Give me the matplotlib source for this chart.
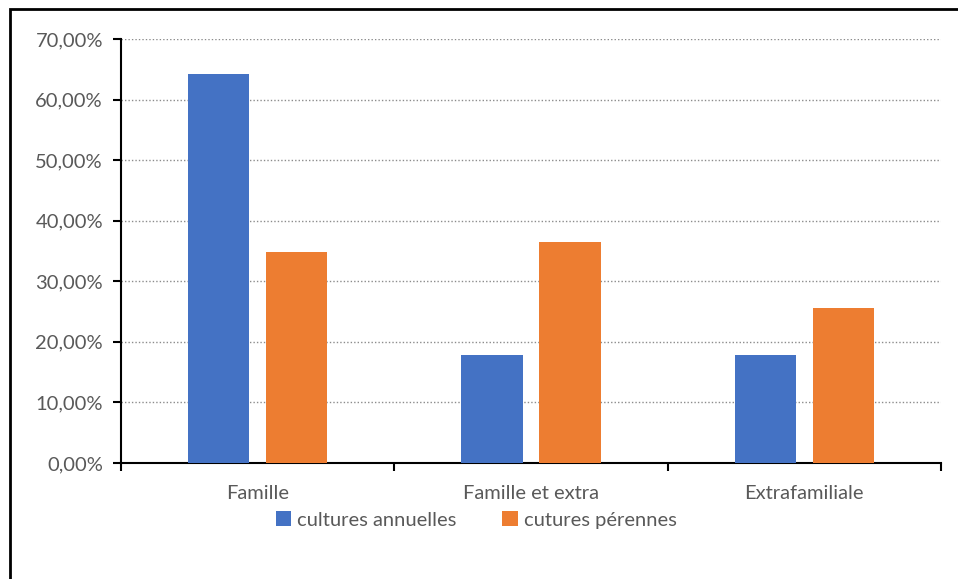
import numpy as np
import matplotlib
matplotlib.use("Agg")
import matplotlib.pyplot as plt
from matplotlib.patches import Rectangle
from matplotlib.ticker import FuncFormatter, MultipleLocator

# data
categories = ["Famille", "Famille et extra", "Extrafamiliale"]
annuelles = [64.2, 17.9, 17.9]
perennes = [34.8, 36.5, 25.6]
series_names = ["cultures annuelles", "cutures pérennes"]

blue = "#4472C4"
orange = "#ED7D31"
grey_text = "#595959"

plt.rcParams["font.family"] = ["Lato", "DejaVu Sans"]

fig = plt.figure(figsize=(9.58, 5.79), dpi=100)
ax = fig.add_axes([121 / 958, 1 - 463 / 579, 820 / 958, 424 / 579])

x = np.arange(len(categories))
w = 0.225
off = 0.1425
ax.bar(x - off, annuelles, w, color=blue, label=series_names[0], zorder=3)
ax.bar(x + off, perennes, w, color=orange, label=series_names[1], zorder=3)

ax.set_xlim(-0.5, len(categories) - 0.5)
ax.set_ylim(0, 70)
ax.yaxis.set_major_locator(MultipleLocator(10))
ax.yaxis.set_major_formatter(FuncFormatter(lambda v, p: ("%.2f%%" % v).replace(".", ",")))
ax.grid(axis="y", color="#8c8c8c", linestyle=(0, (1, 1.5)), linewidth=1, zorder=0)

# category labels in the middle, ticks on the boundaries
ax.set_xticks(np.arange(-0.5, len(categories)), labels=[""] * (len(categories) + 1))
ax.set_xticks(x, labels=categories, minor=True)
ax.tick_params(axis="x", which="minor", length=0, pad=16, labelsize=14.5, labelcolor=grey_text)
ax.tick_params(axis="x", which="major", length=6, width=1.5, color="black")
ax.tick_params(axis="y", length=6, width=1.5, color="black", labelsize=14.5, labelcolor=grey_text, pad=7)

for s in ["top", "right"]:
    ax.spines[s].set_visible(False)
ax.spines["left"].set_linewidth(1.5)
ax.spines["bottom"].set_linewidth(1.5)

ax.legend(loc="center", bbox_to_anchor=(476 / 958, 1 - 520 / 579), bbox_transform=fig.transFigure,
          ncol=2, frameon=False, fontsize=14.5, handlelength=0.75, handleheight=0.75,
          handletextpad=0.3, columnspacing=2.3, labelcolor=grey_text)

# outer border (right and bottom edges fall outside the image)
fig.patches.append(Rectangle((9.5 / 958, -0.1), 1.2, 1.1 - 9.5 / 579, transform=fig.transFigure,
                             fill=False, edgecolor="black", linewidth=2))

fig.savefig("out.png", dpi=100)
